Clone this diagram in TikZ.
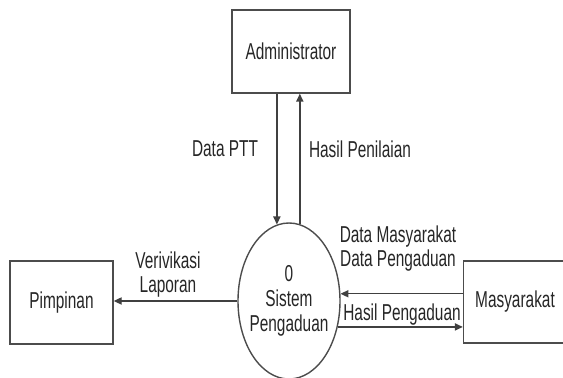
\documentclass[tikz,border=0pt]{standalone}
\usepackage{fontspec}
\setmainfont{Liberation Sans}[FakeStretch=0.67]
\usetikzlibrary{arrows.meta,shapes.geometric}
\begin{document}
\begin{tikzpicture}[x=0.5pt,y=-0.5pt,
  font=\fontsize{11.5}{12}\selectfont,
  entity/.style={draw=black!70, line width=0.7pt, minimum width=51.5pt,
    minimum height=41.5pt, inner sep=0pt, text=black!85},
  process/.style={ellipse, draw=black!70, line width=0.7pt, minimum width=51pt,
    minimum height=78pt, inner sep=0pt, inner xsep=-4pt, align=center, text=black!85,
    font=\fontsize{11.5}{12.5}\selectfont},
  flow/.style={draw=black!75, line width=0.7pt, -{Triangle[length=4pt,width=3.6pt]}},
  flowlabel/.style={text=black!85, align=center, inner sep=0pt}]
% canvas
\path[use as bounding box, clip] (0,0) rectangle (563,378);
% external entities and the process
\node[entity, minimum width=59pt, minimum height=41.5pt] (admin) at (291,51.5) {Administrator};
\node[entity] (pimp) at (61.5,302.5) {Pimpinan};
\node[entity, minimum height=41pt] (masy) at (515,302) {Masyarakat};
\node[process] (sys) at (289,301) {0\\Sistem\\Pengaduan};
% data flows
\draw[flow] (admin.south -| sys.99) -- (sys.99);
\draw[flow] (sys.82) -- (admin.south -| sys.82);
\draw[flow] (sys.west) -- (pimp.east |- sys.west);
\draw[flow] (masy.west |- sys.8) -- (sys.8);
\draw[flow] (sys.-28) -- (masy.west |- sys.-28);
% flow labels
\node[flowlabel] (lptt) at (225,149) {Data PTT};
\node[flowlabel] (lnilai) at (360,149) {Hasil Penilaian};
\node[flowlabel] (llapor) at (168,275) {Verivikasi\\Laporan};
\node[flowlabel] (ldata) at (398,249) {Data Masyarakat\\Data Pengaduan};
\node[flowlabel] (lhasil) at (402,315) {Hasil Pengaduan};
\end{tikzpicture}
\end{document}
